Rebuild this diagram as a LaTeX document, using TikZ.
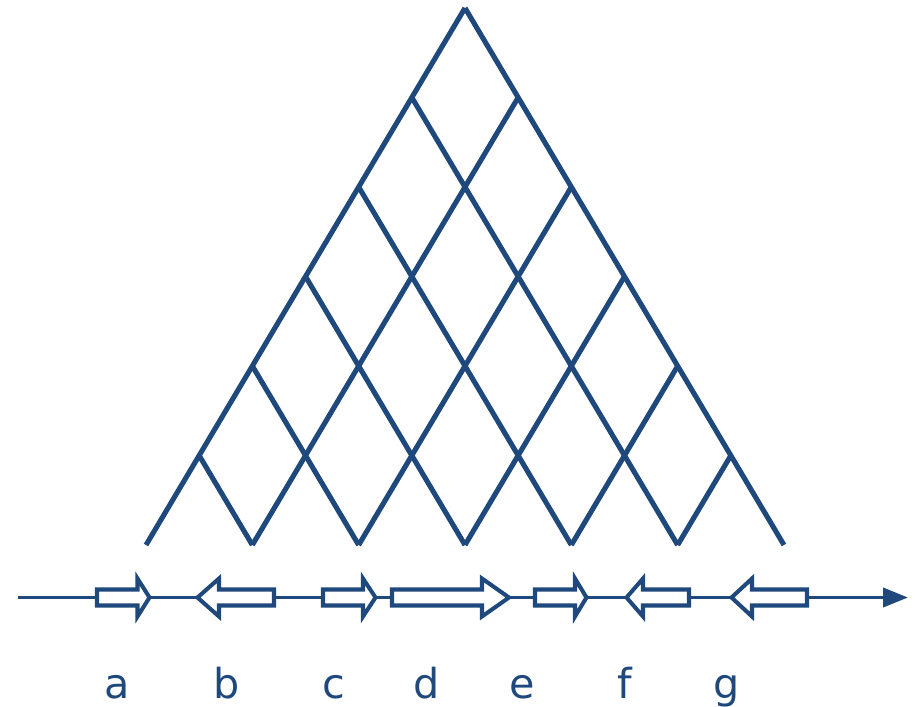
\documentclass[tikz,border=0pt]{standalone}
\usepackage{fontspec}
\setsansfont{DejaVu Sans}
\usetikzlibrary{arrows.meta}
\definecolor{genblau}{RGB}{31,73,125}

\begin{document}
\begin{tikzpicture}[x=0.02cm, y=-0.02cm,
      gitter/.style={draw=genblau, line width=2.9pt},
      achse/.style={draw=genblau, line width=2.2pt, -{Triangle[length=0.5cm, width=0.38cm]}},
      gen/.style={draw=genblau, fill=white, line width=2.3pt, miter limit=4},
      etikett/.style={text=genblau, font=\sffamily\fontsize{23.5}{28}\selectfont, anchor=base, inner sep=0pt}
    ]
    \useasboundingbox (0,0) rectangle (915,706);

    % Gitter: Fusspunkte und Randpunkte
    \foreach \i in {0,...,6} {
      \coordinate (p\i) at ({146+106.33*\i},545);
      \coordinate (l\i) at ({146+53.17*\i},{545-89.5*\i});
      \coordinate (r\i) at ({784-53.17*\i},{545-89.5*\i});
    }
    \foreach \i in {1,...,6} \draw[gitter] (p\i) -- (l\i);
    \foreach \i in {0,...,5} {
      \pgfmathtruncatemacro\j{6-\i}
      \draw[gitter] (p\i) -- (r\j);
    }

    % Genomachse
    \coordinate (start) at (18,597.5);
    \coordinate (ende)  at (908,597.5);
    \draw[achse] (start) -- (ende);

    % Gene (vorwaerts)
    \draw[gen] (97,589.5) -- (137.5,589.5) -- (137.5,578.5) -- (149.5,597.5) -- (137.5,616.5) -- (137.5,605.5) -- (97,605.5) -- cycle;
    \draw[gen] (323,589.5) -- (363,589.5) -- (363,578.5) -- (375.5,597.5) -- (363,616.5) -- (363,605.5) -- (323,605.5) -- cycle;
    \draw[gen] (392,589.5) -- (482,589.5) -- (482,578.5) -- (509,597.5) -- (482,616.5) -- (482,605.5) -- (392,605.5) -- cycle;
    \draw[gen] (535,589.5) -- (575,589.5) -- (575,578.5) -- (586.5,597.5) -- (575,616.5) -- (575,605.5) -- (535,605.5) -- cycle;
    % Gene (rueckwaerts)
    \draw[gen] (274,589.5) -- (219,589.5) -- (219,578.5) -- (197.5,597.5) -- (219,616.5) -- (219,605.5) -- (274,605.5) -- cycle;
    \draw[gen] (689,589.5) -- (643,589.5) -- (643,578.5) -- (626.5,597.5) -- (643,616.5) -- (643,605.5) -- (689,605.5) -- cycle;
    \draw[gen] (807,589.5) -- (752,589.5) -- (752,578.5) -- (731.5,597.5) -- (752,616.5) -- (752,605.5) -- (807,605.5) -- cycle;

    % Beschriftung
    \node[etikett] (ga) at (117,698) {a};
    \node[etikett] (gb) at (227,698) {b};
    \node[etikett] (gc) at (334,698) {c};
    \node[etikett] (gd) at (427,698) {d};
    \node[etikett] (ge) at (522,698) {e};
    \node[etikett] (gf) at (625,698) {f};
    \node[etikett] (gg) at (727,698) {g};
  \end{tikzpicture}
\end{document}
